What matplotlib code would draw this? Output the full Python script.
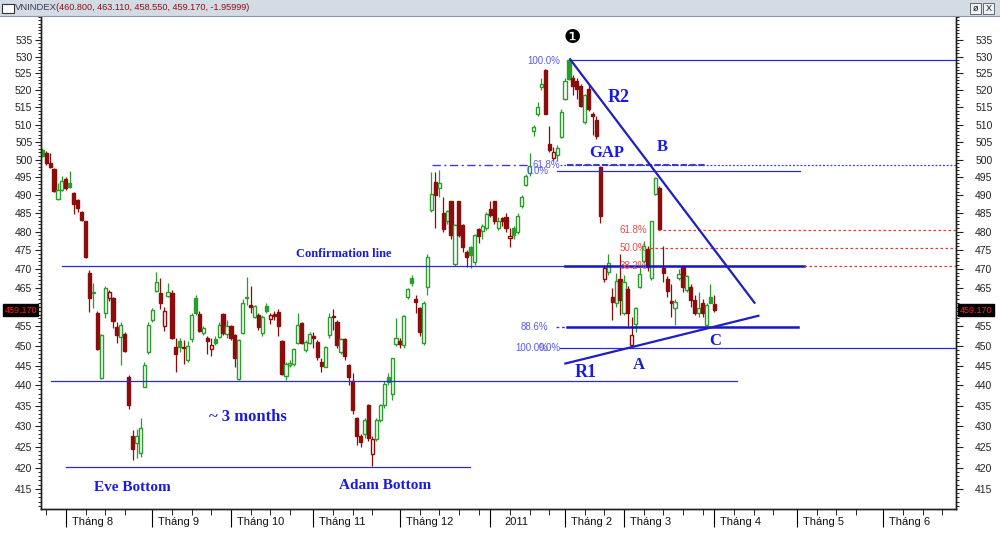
import numpy as np
import matplotlib.pyplot as plt
import matplotlib.transforms as mtransforms
from matplotlib.patches import Rectangle
from matplotlib.ticker import FixedLocator, FixedFormatter, NullFormatter

plt.rcParams['font.family'] = ['Liberation Sans', 'DejaVu Sans']

# daily OHLC, VNINDEX, Aug 2010 - Apr 2011
opens = [
    502.8, 501.8, 499.0, 497.4, 489.0, 491.5, 494.5, 493.5, 490.6, 488.8,
    485.3, 482.8, 469.0, 463.6, 458.5, 441.8, 458.3, 462.2, 462.2, 454.7,
    452.3, 453.0, 442.2, 427.6, 425.9, 423.6, 439.7, 448.3, 456.6, 464.2,
    463.6, 455.0, 462.8, 463.6, 449.6, 451.3, 449.6, 446.3, 451.6, 462.4,
    458.1, 453.3, 452.0, 449.3, 451.6, 452.3, 458.1, 453.0, 455.0, 452.7,
    441.6, 453.2, 462.2, 460.5, 457.5, 457.9, 453.2, 460.2, 456.8, 458.2,
    458.7, 451.2, 442.4, 445.2, 445.4, 450.8, 455.8, 449.0, 450.8, 452.5,
    451.0, 446.0, 444.7, 452.7, 457.6, 456.1, 448.3, 451.6, 445.2, 441.0,
    431.9, 427.5, 428.2, 435.1, 423.2, 426.8, 431.4, 435.1, 442.2, 438.0,
    450.5, 451.3, 450.2, 462.7, 467.6, 462.0, 459.7, 450.8, 465.2, 486.0,
    493.8, 492.0, 485.1, 482.9, 488.3, 471.3, 488.3, 481.9, 474.4, 475.8,
    471.8, 480.6, 480.3, 481.0, 486.3, 488.3, 480.9, 483.7, 484.0, 478.2,
    480.9, 480.0, 486.9, 492.9, 496.1, 508.1, 513.2, 520.9, 526.0, 504.5,
    500.5, 501.3, 506.4, 517.4, 529.0, 523.6, 522.6, 521.3, 510.6, 520.3,
    513.0, 511.3, 498.0, 467.3, 469.1, 462.7, 460.9, 467.4, 458.3, 464.8,
    450.2, 455.7, 465.2, 472.2, 475.3, 467.5, 490.3, 491.9, 470.2, 467.4,
    461.6, 459.6, 467.6, 470.6, 464.3, 465.2, 461.8, 458.3, 460.9, 455.3,
    462.7, 460.8]
highs = [
    503.2, 502.3, 501.9, 497.6, 493.3, 495.3, 495.0, 496.9, 490.8, 489.0,
    485.6, 483.0, 469.6, 466.3, 458.9, 453.0, 465.5, 464.5, 462.5, 456.0,
    456.0, 453.5, 442.5, 429.0, 429.2, 431.9, 446.0, 456.0, 459.8, 469.3,
    467.7, 460.0, 466.2, 464.3, 452.0, 452.0, 451.5, 451.3, 458.5, 463.0,
    459.0, 455.0, 452.4, 452.0, 452.5, 456.0, 458.5, 456.5, 455.3, 453.0,
    451.6, 462.0, 467.9, 465.5, 460.5, 458.5, 458.0, 461.0, 458.5, 459.0,
    459.5, 451.5, 446.0, 446.5, 449.5, 458.3, 456.0, 451.5, 453.5, 453.5,
    451.5, 447.0, 450.0, 458.3, 459.5, 456.5, 452.0, 452.0, 445.5, 443.0,
    432.3, 428.0, 432.0, 435.5, 427.5, 432.0, 435.5, 441.0, 443.0, 447.0,
    457.0, 452.0, 458.0, 465.0, 468.5, 463.0, 460.0, 461.5, 474.0, 496.6,
    496.6, 497.0, 489.5, 486.0, 488.5, 482.0, 488.5, 482.0, 475.0, 476.0,
    479.5, 481.0, 482.0, 485.5, 488.3, 488.5, 484.0, 484.0, 485.0, 481.0,
    481.5, 485.0, 490.0, 496.0, 501.8, 510.0, 516.5, 523.5, 526.2, 509.5,
    503.5, 504.0, 514.5, 523.5, 529.3, 524.5, 523.5, 521.8, 519.0, 521.8,
    513.5, 512.5, 498.2, 471.0, 474.0, 465.0, 469.0, 474.0, 468.5, 465.5,
    457.5, 460.0, 470.5, 477.5, 476.0, 483.0, 495.2, 492.5, 476.0, 468.0,
    466.0, 462.0, 470.0, 471.0, 468.5, 466.0, 463.0, 464.0, 462.0, 461.0,
    465.9, 463.11]
lows = [
    500.6, 498.5, 497.5, 491.0, 488.8, 491.2, 491.5, 492.0, 484.9, 485.5,
    482.8, 472.8, 458.7, 459.8, 449.0, 441.5, 457.0, 461.5, 454.5, 450.8,
    445.2, 448.5, 434.3, 421.8, 422.4, 422.6, 439.5, 447.8, 456.0, 463.8,
    459.5, 453.7, 462.5, 451.8, 443.3, 448.5, 445.3, 446.0, 451.0, 458.0,
    453.5, 452.8, 447.8, 447.5, 450.3, 452.0, 452.8, 452.0, 451.5, 444.7,
    441.3, 453.0, 460.5, 458.5, 457.0, 454.0, 452.5, 458.5, 455.5, 456.5,
    452.4, 442.5, 441.3, 444.5, 445.0, 450.5, 450.5, 448.5, 450.5, 449.5,
    446.5, 443.3, 444.5, 452.0, 454.0, 449.5, 448.0, 446.5, 440.0, 433.0,
    425.5, 425.0, 427.0, 426.5, 420.5, 426.5, 431.0, 434.5, 440.0, 436.5,
    450.0, 449.5, 449.5, 462.0, 465.5, 458.5, 452.5, 450.3, 463.0, 485.5,
    481.0, 489.5, 480.0, 482.0, 478.0, 470.8, 478.5, 474.5, 470.5, 470.3,
    471.0, 477.0, 478.0, 480.5, 484.0, 482.0, 480.5, 481.5, 480.0, 475.8,
    478.0, 479.5, 486.5, 492.5, 495.5, 506.8, 512.5, 520.0, 513.0, 502.0,
    499.5, 499.5, 506.0, 517.0, 523.0, 518.5, 517.5, 515.0, 510.3, 514.0,
    507.0, 505.9, 482.4, 466.5, 468.5, 456.7, 460.0, 458.0, 458.0, 455.0,
    449.4, 453.5, 465.0, 471.5, 469.5, 467.0, 490.0, 480.4, 466.5, 462.5,
    457.5, 455.2, 467.0, 464.0, 464.0, 460.0, 458.0, 457.5, 457.5, 455.0,
    461.0, 458.55]
closes = [
    501.0, 499.0, 497.8, 491.3, 491.5, 494.0, 492.0, 492.3, 487.5, 486.5,
    483.2, 473.1, 462.3, 463.9, 449.2, 452.8, 465.0, 464.0, 456.3, 452.8,
    455.4, 448.7, 435.2, 424.5, 427.5, 429.6, 445.2, 455.4, 459.2, 466.5,
    461.0, 458.9, 463.9, 452.0, 448.0, 449.8, 449.4, 449.9, 457.9, 458.4,
    453.9, 454.5, 451.3, 450.2, 450.8, 455.4, 453.3, 455.0, 452.0, 446.8,
    451.4, 461.1, 462.5, 460.0, 460.2, 454.8, 457.5, 458.9, 457.8, 457.6,
    455.0, 442.9, 445.3, 445.7, 449.1, 455.4, 450.8, 451.0, 452.9, 452.0,
    447.2, 444.8, 449.7, 457.5, 457.3, 450.2, 451.6, 447.5, 442.2, 434.0,
    427.5, 426.2, 431.5, 427.0, 426.8, 431.5, 435.1, 440.4, 440.8, 446.8,
    452.0, 450.5, 457.7, 464.6, 466.3, 461.3, 453.5, 460.9, 473.3, 490.4,
    490.1, 493.3, 480.7, 485.6, 479.0, 481.9, 479.0, 475.8, 473.3, 473.6,
    479.1, 478.9, 481.5, 484.9, 484.6, 482.9, 483.0, 482.8, 480.9, 478.8,
    479.0, 484.4, 489.4, 495.5, 498.3, 509.3, 515.0, 521.7, 513.2, 502.7,
    502.1, 503.2, 513.6, 522.8, 523.4, 521.2, 520.3, 515.4, 518.7, 514.4,
    512.6, 506.8, 484.2, 470.2, 471.7, 461.4, 466.9, 461.8, 466.5, 458.3,
    452.7, 459.6, 468.7, 476.2, 470.6, 482.8, 494.7, 480.6, 469.0, 464.2,
    461.1, 461.4, 468.7, 465.2, 468.2, 461.8, 458.4, 459.6, 458.3, 460.5,
    461.13, 459.17]
prev_close0 = 500.5

month_idx = [6, 28, 48, 69, 91, 114, 133, 148, 171, 192, 214]
month_lbl = ['Tháng 8', 'Tháng 9', 'Tháng 10', 'Tháng 11', 'Tháng 12', '2011',
             'Tháng 2', 'Tháng 3', 'Tháng 4', 'Tháng 5', 'Tháng 6']
y_ticks = list(range(415, 540, 5))

# support / resistance lines: (price, from day, to day)
thin_lines = [(470.8, 5.1, 133.1), (441.0, 2.3, 176.8), (420.1, 6.1, 108.9),
              (529.0, 134.4, 232.4), (496.9, 131.0, 192.9), (449.4, 131.8, 232.4)]
thick_lines = [(470.8, 133.1, 193.9), (454.9, 133.6, 192.4)]
red_dotted = [(480.5, 156.7, 232.4), (475.7, 154.7, 232.4), (470.8, 193.9, 232.4)]
fib618_hi = 498.5

# trend lines
r2_x, r2_y = [134.3, 181.2], [529.2, 461.1]
r1_x, r1_y = [133.1, 182.2], [445.5, 457.7]

fib_labels = [('100.0%', 131.8, 528.7, '#5a5af0'), ('61.8%', 131.8, 498.5, '#5a5af0'),
              ('0.0%', 128.8, 496.7, '#5a5af0'), ('61.8%', 153.9, 480.5, '#f04848'),
              ('50.0%', 153.9, 475.7, '#f04848'), ('38.2%', 153.9, 470.8, '#f04848'),
              ('88.6%', 128.8, 454.9, '#5a5af0'), ('100.0%', 128.8, 449.4, '#5a5af0'),
              ('0.0%', 131.8, 449.4, '#5a5af0')]

notes = [('R2', 146.6, 518.0, 13), ('GAP', 143.5, 501.9, 12), ('B', 157.8, 503.6, 12),
         ('Confirmation line', 76.8, 474.0, 9), ('~ 3 months', 52.2, 432.3, 12),
         ('Eve Bottom', 22.9, 415.3, 11), ('Adam Bottom', 87.3, 415.7, 11),
         ('R1', 138.2, 443.2, 13), ('A', 151.7, 445.1, 12), ('C', 171.2, 451.3, 12)]

GREEN = '#2a9d2a'
RED = '#8c0c0c'
BLUE = '#2a2ad8'
TXT = '#1a1ae0'
y_lo, y_hi = 410.3, 542.3

fig = plt.figure(figsize=(10, 5.36), dpi=100)
ax = fig.add_axes([0.0407, 0.0504, 0.915, 0.9197])
ax.set_yscale('log')

# candles: green if close >= previous close, filled if close < open
o = np.array(opens); h = np.array(highs); l = np.array(lows); c = np.array(closes)
x = np.arange(len(c))
prev = np.concatenate([[prev_close0], c[:-1]])
cols = np.where(c >= prev, GREEN, RED)
faces = np.where(c < o, cols, 'white')
ax.vlines(x, l, h, colors=cols, lw=0.9, zorder=2)
ax.bar(x, np.abs(c - o), bottom=np.minimum(o, c), width=0.8,
       color=faces, edgecolor=cols, linewidth=1.0, zorder=3)

# horizontal levels
for p, a, b in thin_lines:
    ax.plot([a, b], [p, p], color=BLUE, lw=0.9, zorder=4)
for p, a, b in thick_lines:
    ax.plot([a, b], [p, p], color='#1414c8', lw=1.8, zorder=4)
for p, a, b in red_dotted:
    ax.plot([a, b], [p, p], color='#ee3333', lw=0.9, ls=(0, (2, 2)), zorder=4)
ax.plot([99.2, 124.2], [fib618_hi] * 2, color='#3a3ae0', lw=1, ls=(0, (6, 2.5, 1.5, 2.5)), zorder=4)
ax.plot([131.8, 232.4], [fib618_hi] * 2, color='#3a3ae0', lw=0.9, ls=(0, (1.5, 1.5)), zorder=4)
ax.plot([133.6, 169.2], [fib618_hi] * 2, color='#3a3ae0', lw=1.5, ls=(0, (3, 1.2)), zorder=4)
ax.plot([130.8, 133.6], [454.9] * 2, color='#3a3ae0', lw=1, ls=(0, (2, 2)), zorder=4)

# trend lines
ax.plot(r2_x, r2_y, color='#1f1fc0', lw=1.6, zorder=5)
ax.plot(r1_x, r1_y, color='#1f1fc0', lw=1.6, zorder=5)

for t, xx, yy, col in fib_labels:
    ax.text(xx, yy, t, color=col, fontsize=7, ha='right', va='center', zorder=6)
for t, xx, yy, s in notes:
    ax.text(xx, yy, t, color=TXT, fontsize=s, ha='center', va='center',
            family='Liberation Serif', fontweight='bold', zorder=6)
ax.text(134.9, 535.9, '\u2776', fontsize=14, ha='center', va='center',
        family='DejaVu Sans', color='black', zorder=6)

ax.set_xlim(-0.4, 232.4)
ax.set_ylim(y_lo, y_hi)

# y axis, both sides; the 460 label sits under the last-price tag
ylabels = ['' if v == 460 else str(v) for v in y_ticks]
ax2 = ax.twinx()
ax2.set_yscale('log')
ax2.set_ylim(y_lo, y_hi)
for a in (ax, ax2):
    a.yaxis.set_major_locator(FixedLocator(y_ticks))
    a.yaxis.set_major_formatter(FixedFormatter(ylabels))
    a.yaxis.set_minor_locator(FixedLocator(list(range(411, 543))))
    a.yaxis.set_minor_formatter(NullFormatter())
    a.spines['top'].set_visible(False)
    for s in ('left', 'right', 'bottom'):
        a.spines[s].set_linewidth(1.0)
        a.spines[s].set_color('#202020')
ax.tick_params(axis='y', which='major', length=4, width=0.8, labelsize=7.5, pad=2,
               colors='#222222')
ax.tick_params(axis='y', which='minor', length=2, width=0.6)
ax2.tick_params(axis='y', which='major', length=5, width=0.8, labelsize=7.5, pad=9,
                colors='#222222')
ax2.tick_params(axis='y', which='minor', length=2.5, width=0.6)

# x axis: months
minor_x = [1]
for a, b in zip(month_idx[:-1], month_idx[1:]):
    minor_x += [v for v in range(a + 5, b - 2, 5)]
minor_x += [219, 224, 229]
ax.set_xticks(month_idx)
ax.set_xticklabels([])
ax.set_xticks(minor_x, minor=True)
ax.tick_params(axis='x', which='major', length=13, width=0.8, direction='out')
ax.tick_params(axis='x', which='minor', length=4, width=0.6, direction='out')
trans = mtransforms.blended_transform_factory(ax.transData, ax.transAxes)
for m, lab in zip(month_idx, month_lbl):
    off = 3.5 if lab == '2011' else 1.5
    ax.text(m + off, -0.027, lab, transform=trans, fontsize=8, ha='left', va='center',
            color='#111111', clip_on=False)

# last price tags
ytrans = mtransforms.blended_transform_factory(ax.transAxes, ax.transData)
for xa in (-0.022, 1.022):
    ax2.text(xa, closes[-1], '%.3f' % closes[-1], transform=ytrans, color='#ff2020',
             fontsize=6.5, ha='center', va='center', clip_on=False, zorder=10,
             bbox=dict(facecolor='black', edgecolor='black', pad=1.2))

# title bar
fig.add_artist(Rectangle((0, 0.9701), 1, 0.0299, transform=fig.transFigure,
                         facecolor='#d3dbe5', edgecolor='none'))
fig.add_artist(plt.Line2D([0, 1], [0.9701, 0.9701], transform=fig.transFigure,
                          color='#8a96a8', lw=0.8))
fig.add_artist(Rectangle((0.002, 0.9757), 0.012, 0.0168, transform=fig.transFigure,
                         facecolor='white', edgecolor='#333333', lw=0.8))
fig.text(0.0145, 0.9855, 'VNINDEX', fontsize=6.8, color='#3a3a50', va='center')
fig.text(0.0555, 0.9855, '(460.800, 463.110, 458.550, 459.170, -1.95999)', fontsize=6.6,
         color='#8b1010', va='center')
for bx, t in ((0.970, '\u00f8'), (0.983, 'X')):
    fig.add_artist(Rectangle((bx, 0.974), 0.011, 0.021, transform=fig.transFigure,
                             facecolor='#eef1f5', edgecolor='#555555', lw=0.6))
    fig.text(bx + 0.0055, 0.9845, t, fontsize=6.5, ha='center', va='center', color='#111111')

fig.savefig('out.png', dpi=100)
